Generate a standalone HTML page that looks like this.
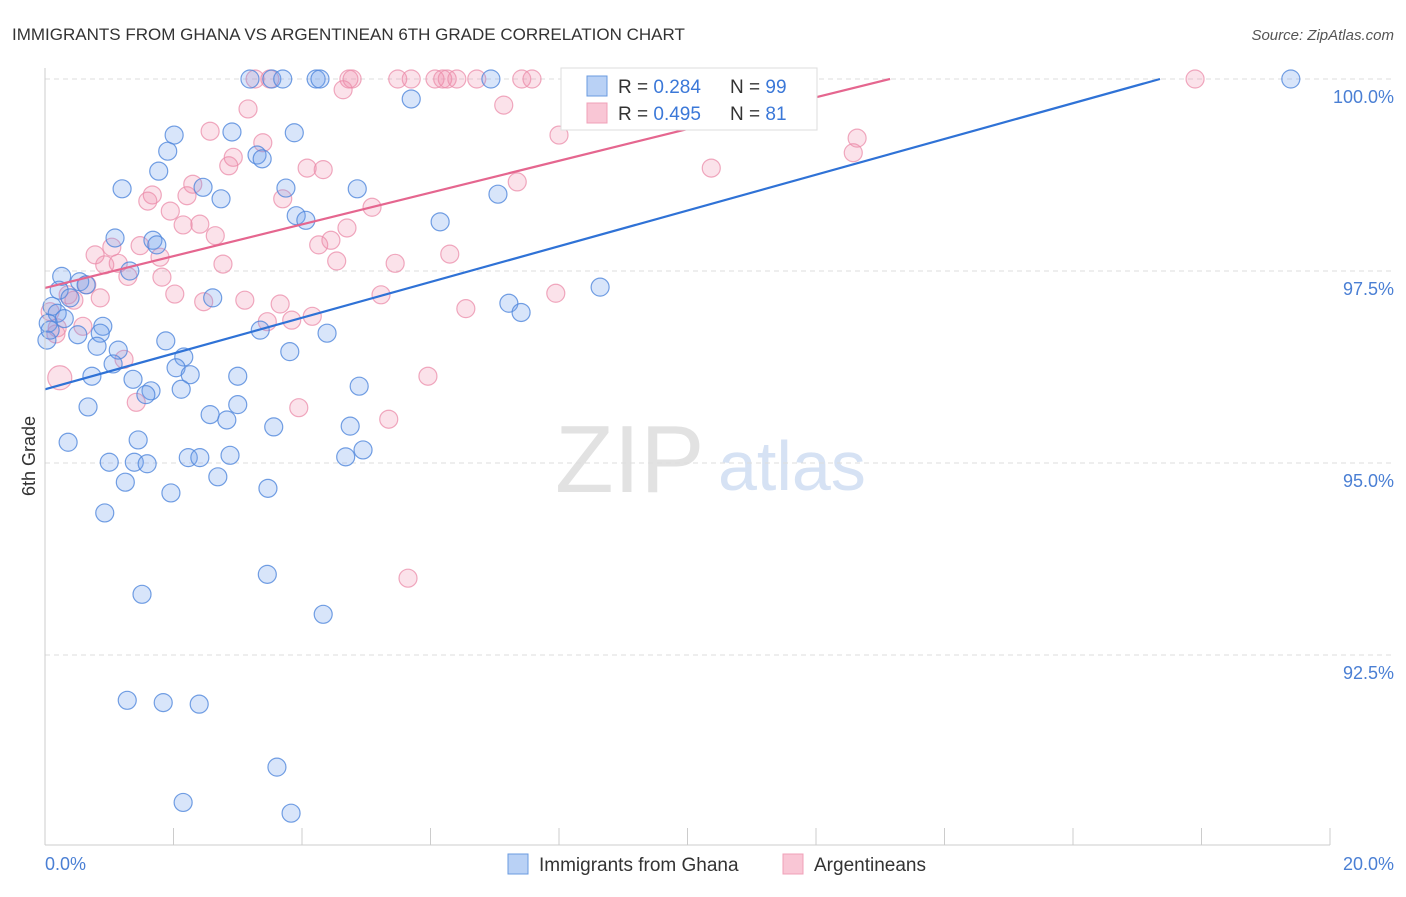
<!DOCTYPE html>
<html><head><meta charset="utf-8"><style>
body{margin:0;background:#fff;font-family:"Liberation Sans",sans-serif;}
svg text{font-family:"Liberation Sans",sans-serif;}
</style></head><body>
<svg id="chart" width="1406" height="892">
<text x="12" y="40" font-size="17" fill="#333">IMMIGRANTS FROM GHANA VS ARGENTINEAN 6TH GRADE CORRELATION CHART</text>
<text x="1394" y="40" font-size="15" fill="#555" text-anchor="end" font-style="italic">Source: ZipAtlas.com</text>
<text x="35" y="456" font-size="18" fill="#333" transform="rotate(-90 35 456)" text-anchor="middle">6th Grade</text>
<text x="555" y="492" font-size="96" fill="#e2e2e2" font-family="Liberation Serif">ZIP</text>
<text x="718" y="490" font-size="70" fill="#d6e2f4">atlas</text>
<g id="grid"></g><g id="pts"></g><g id="lines"></g>
<line x1="45" y1="68" x2="45" y2="845" stroke="#ccc"/>
<line x1="45" y1="845" x2="1330" y2="845" stroke="#ccc"/>
<text x="45" y="870" font-size="18" fill="#4a7fd4">0.0%</text>
<text x="1394" y="870" font-size="18" fill="#4a7fd4" text-anchor="end">20.0%</text>
<g>
<rect x="561" y="68" width="256" height="62" fill="#fff" stroke="#ddd"/>
<rect x="587" y="76" width="20" height="20" fill="#b9d1f5" stroke="#6a9be0"/>
<rect x="587" y="103" width="20" height="20" fill="#f9c6d5" stroke="#f0a0b8"/>
<text x="618" y="93" font-size="19" fill="#333">R = <tspan fill="#3b78d8">0.284</tspan><tspan x="730">N = </tspan><tspan fill="#3b78d8">99</tspan></text>
<text x="618" y="120" font-size="19" fill="#333">R = <tspan fill="#3b78d8">0.495</tspan><tspan x="730">N = </tspan><tspan fill="#3b78d8"> 81</tspan></text>
</g>
<g>
<rect x="508" y="854" width="20" height="20" fill="#b9d1f5" stroke="#6a9be0"/>
<text x="539" y="871" font-size="19" fill="#333">Immigrants from Ghana</text>
<rect x="783" y="854" width="20" height="20" fill="#f9c6d5" stroke="#f0a0b8"/>
<text x="814" y="871" font-size="19" fill="#333">Argentineans</text>
</g>
</svg>
<script>
const yTicks=[100,97.5,95,92.5];
const yTickLabels=["100.0%","97.5%","95.0%","92.5%"];
const xTicks=[0,2,4,6,8,10,12,14,16,18,20];
const ghanaX=[3.19,3.53,3.70,4.22,4.28,6.94,19.39,5.70,2.01,2.91,3.88,1.91,3.30,3.38,1.77,1.20,2.46,3.75,4.86,7.05,2.74,3.91,4.06,6.15,1.09,1.68,1.74,1.32,0.26,0.54,0.64,0.22,0.39,2.61,7.22,7.41,8.64,0.11,0.19,0.30,0.90,0.05,0.86,0.51,3.35,4.39,1.88,0.81,1.14,3.81,2.16,1.06,2.04,0.73,2.26,1.37,3.00,4.89,1.65,2.12,1.57,0.67,2.57,3.00,2.83,4.75,3.56,0.36,1.45,4.95,2.23,2.41,2.88,4.68,1.00,1.39,1.59,2.69,1.25,1.96,3.47,0.93,3.46,1.51,4.33,1.28,1.84,2.40,3.61,2.15,3.83,0.03,0.08];
const ghanaY=[100,100,100,100,100,100,100,99.74,99.27,99.31,99.30,99.06,99.01,98.96,98.80,98.57,98.59,98.58,98.57,98.50,98.44,98.22,98.16,98.14,97.93,97.90,97.84,97.50,97.43,97.36,97.32,97.25,97.15,97.15,97.08,96.96,97.29,97.04,96.95,96.88,96.78,96.82,96.69,96.67,96.73,96.69,96.59,96.52,96.47,96.45,96.38,96.29,96.24,96.13,96.15,96.09,96.13,96.00,95.94,95.96,95.89,95.73,95.63,95.76,95.56,95.48,95.47,95.27,95.30,95.17,95.07,95.07,95.10,95.08,95.01,95.01,94.99,94.82,94.75,94.61,94.67,94.35,93.55,93.29,93.03,91.91,91.88,91.86,91.04,90.58,90.44,96.60,96.73];
const argX=[3.27,3.50,4.73,4.78,5.49,5.70,6.07,6.19,6.26,6.41,6.72,7.42,7.58,8.25,9.03,9.26,17.90,4.64,7.14,3.16,2.57,8.00,3.39,12.64,12.58,2.93,2.86,4.08,4.33,10.37,2.30,7.35,1.67,2.21,1.60,3.70,5.09,1.95,2.41,2.15,4.70,2.65,4.45,4.26,1.48,1.04,0.78,6.30,1.79,4.54,2.77,1.14,5.45,0.93,1.29,1.82,0.65,2.02,5.23,7.95,3.11,2.47,0.86,0.45,3.66,6.55,4.16,3.46,3.84,0.59,0.19,0.17,1.23,0.23,5.96,1.42,3.95,5.35,5.65,0.36,0.08];
const argY=[100,100,100,100,100,100,100,100,100,100,100,100,100,100,100,100,100,99.86,99.66,99.61,99.32,99.27,99.17,99.23,99.04,98.98,98.87,98.84,98.82,98.84,98.63,98.66,98.49,98.48,98.41,98.44,98.33,98.28,98.11,98.10,98.06,97.96,97.90,97.84,97.83,97.81,97.71,97.72,97.68,97.63,97.59,97.60,97.60,97.58,97.43,97.42,97.32,97.20,97.19,97.21,97.12,97.10,97.15,97.12,97.07,97.01,96.91,96.84,96.86,96.78,96.76,96.68,96.35,96.11,96.13,95.79,95.72,95.57,93.50,97.19,96.97];
const ghanaTrend=[95.96,0.2328];
const argTrend=[97.28,0.2068];
const NS="http://www.w3.org/2000/svg";
const sx=v=>45+v/20*1285;
const sy=v=>79+(100-v)/2.5*192;
function mk(tag,attrs,parent){const e=document.createElementNS(NS,tag);for(const k in attrs)e.setAttribute(k,attrs[k]);document.getElementById(parent).appendChild(e);return e;}
yTicks.forEach((t,i)=>{
  const l=mk('line',{x1:45,x2:1394,y1:sy(t),y2:sy(t),stroke:'#ddd','stroke-dasharray':'5,4'},'grid');
  
  
  const tx=mk('text',{x:1394,y:sy(t)+24,'font-size':18,fill:'#4a7fd4','text-anchor':'end'},'grid');
  tx.textContent=yTickLabels[i];
  
  
});
xTicks.forEach(t=>{
  const l=mk('line',{x1:sx(t),x2:sx(t),y1:828,y2:845,stroke:'#ccc'},'grid');
  
  
});
argX.forEach((x,i)=>{
  const r=(i===73)?12:9;
  const c=mk('circle',{cx:sx(x),cy:sy(argY[i]),r:r,fill:'rgba(240,140,170,0.25)',stroke:'rgba(235,140,170,0.75)','stroke-width':1.2},'pts');
  
  
});
ghanaX.forEach((x,i)=>{
  const c=mk('circle',{cx:sx(x),cy:sy(ghanaY[i]),r:9,fill:'rgba(110,160,235,0.27)',stroke:'rgba(80,135,220,0.8)','stroke-width':1.2},'pts');
  
  
});
function trend(p,color,name){
  const xEnd=Math.min(20,(100-p[0])/p[1]);
  const l=mk('line',{x1:sx(0),y1:sy(p[0]),x2:sx(xEnd),y2:sy(p[0]+p[1]*xEnd),stroke:color,'stroke-width':2.2},'lines');
  
  
}
trend(ghanaTrend,'#2f72d6','ghana-trend-line');
trend(argTrend,'#e5668f','argentinean-trend-line');
</script>
</body></html>
